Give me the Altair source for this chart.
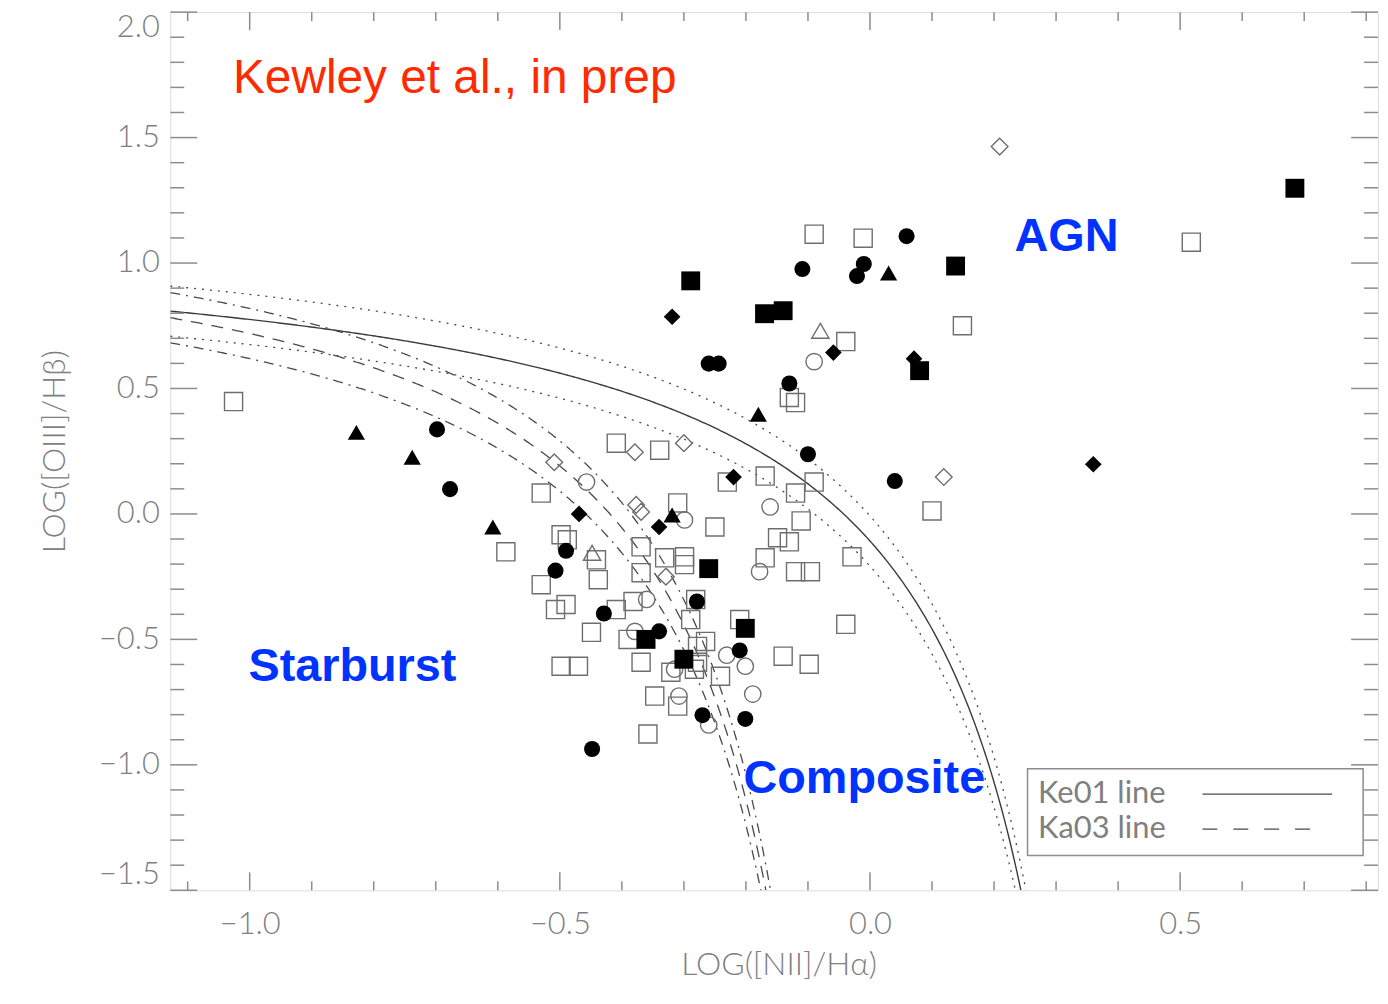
import altair as alt
import pandas as pd
import numpy as np

# ---------------- axis ranges / ticks ----------------
X_MIN, X_MAX = -1.128, 0.819
Y_MIN, Y_MAX = -1.5, 2.0
X_MAJOR = [-1.0, -0.5, 0.0, 0.5]
X_MINOR = [-1.1, -0.9, -0.8, -0.7, -0.6, -0.4, -0.3, -0.2, -0.1, 0.1, 0.2, 0.3, 0.4, 0.6, 0.7, 0.8]
Y_MAJOR = [-1.5, -1.0, -0.5, 0.0, 0.5, 1.0, 1.5, 2.0]
Y_MINOR = [-1.4, -1.3, -1.2, -1.1, -0.9, -0.8, -0.7, -0.6, -0.4, -0.3, -0.2, -0.1,
           0.1, 0.2, 0.3, 0.4, 0.6, 0.7, 0.8, 0.9, 1.1, 1.2, 1.3, 1.4, 1.6, 1.7, 1.8, 1.9]

# ---------------- demarcation lines (published coefficients) ----------------
KE01 = [0.61, 0.47, 1.19]   # log(OIII/Hb) = a/(log(NII/Ha) - x0) + b
KA03 = [0.61, 0.05, 1.30]
SHIFTS = [0.1, -0.1]

# ---------------- galaxies, by marker type ----------------
OPEN_SQ_X = [-1.026, -0.090, -0.011, 0.518, 0.149, -0.039, -0.130, -0.120, 0.100, -0.039,
             -0.098, -0.140, -0.409, -0.339, -0.530, -0.230, -0.169, -0.090, -0.120, -0.310,
             -0.250, -0.111, -0.149, -0.130, -0.169, -0.120, -0.096, -0.029, -0.587, -0.498,
             -0.488, -0.441, -0.438, -0.369, -0.369, -0.331, -0.299, -0.299, -0.530, -0.507,
             -0.490, -0.409, -0.382, -0.449, -0.390, -0.281, -0.289, -0.265, -0.210, -0.498,
             -0.470, -0.369, -0.321, -0.278, -0.278, -0.241, -0.347, -0.310, -0.358, -0.283]
OPEN_SQ_Y = [0.448, 1.115, 1.099, 1.083, 0.750, 0.687, 0.464, 0.444, 0.012, -0.440,
             -0.599, -0.567, 0.282, 0.254, 0.083, 0.127, 0.151, 0.127, 0.083, 0.044,
             -0.052, -0.028, -0.095, -0.111, -0.175, -0.230, -0.230, -0.171, -0.151, -0.083,
             -0.103, -0.183, -0.262, -0.131, -0.234, -0.175, -0.171, -0.202, -0.282, -0.381,
             -0.361, -0.381, -0.349, -0.472, -0.500, -0.341, -0.421, -0.508, -0.421, -0.607,
             -0.607, -0.591, -0.631, -0.528, -0.591, -0.647, -0.726, -0.766, -0.877, -0.619]

FILL_SQ_X = [0.685, -0.289, -0.170, -0.140, 0.138, 0.080, -0.260, -0.201, -0.300, -0.361]
FILL_SQ_Y = [1.298, 0.929, 0.798, 0.810, 0.988, 0.571, -0.218, -0.456, -0.579, -0.500]

FILL_CI_X = [0.059, -0.109, -0.010, -0.021, -0.260, -0.244, -0.130, -0.100, 0.040, -0.698,
             -0.677, -0.490, -0.507, -0.429, -0.340, -0.279, -0.210, -0.270, -0.201, -0.448]
FILL_CI_Y = [1.107, 0.976, 0.996, 0.948, 0.599, 0.599, 0.520, 0.238, 0.131, 0.337,
             0.099, -0.147, -0.226, -0.397, -0.468, -0.349, -0.544, -0.802, -0.817, -0.937]

OPEN_CI_X = [-0.090, -0.457, -0.299, -0.161, -0.178, -0.360, -0.379, -0.231, -0.201, -0.189,
             -0.260, -0.308, -0.315]
OPEN_CI_Y = [0.607, 0.127, -0.024, 0.028, -0.230, -0.341, -0.468, -0.563, -0.607, -0.718,
             -0.841, -0.726, -0.619]

FILL_TR_X = [0.030, -0.180, -0.828, -0.738, -0.608, -0.319]
FILL_TR_Y = [0.960, 0.397, 0.325, 0.226, -0.052, -0.004]

OPEN_TR_X = [-0.080, -0.448]
OPEN_TR_Y = [0.730, -0.155]

FILL_DI_X = [-0.319, -0.059, 0.071, 0.360, -0.220, -0.469, -0.340]
FILL_DI_Y = [0.786, 0.643, 0.619, 0.198, 0.147, 0.000, -0.052]

OPEN_DI_X = [0.209, 0.119, -0.509, -0.379, -0.300, -0.377, -0.369, -0.329]
OPEN_DI_Y = [1.464, 0.147, 0.206, 0.246, 0.282, 0.036, 0.008, -0.250]

# ---------------- layout / style ----------------
W, H = 1213, 882
AXC = "#8c8c8c"
LBL = "#808080"
FONT = "Lato"
XS = alt.Scale(domain=[X_MIN, X_MAX], nice=False, zero=False)
YS = alt.Scale(domain=[Y_MIN, Y_MAX], nice=False, zero=False)

AX_X = alt.Axis(values=X_MAJOR, format=".1f", title="LOG([NII]/Hα)", ticks=False, domain=False,
                grid=False, labelFont=FONT, labelFontSize=31, labelFontWeight=300, labelColor=LBL,
                labelPadding=19, titleFont=FONT, titleFontSize=32, titleFontWeight=300,
                titleColor=LBL, titleX=611, titleY=75, titleAlign="center", titleBaseline="middle")
AX_Y = alt.Axis(values=Y_MAJOR, format=".1f", title="LOG([OIII]/Hβ)", ticks=False, domain=False,
                grid=False, labelFont=FONT, labelFontSize=31, labelFontWeight=300, labelColor=LBL,
                labelPadding=11, labelFlush=True, titleFont=FONT, titleFontSize=32,
                titleFontWeight=300, titleColor=LBL, titleX=-116, titleY=441, titleAngle=270,
                titleAlign="center", titleBaseline="middle")


def X(f="x"):
    return alt.X(f + ":Q", scale=XS, axis=AX_X)


def Y(f="y"):
    return alt.Y(f + ":Q", scale=YS, axis=AX_Y)


def points(xs, ys, shape, filled, size):
    df = pd.DataFrame({"x": xs, "y": ys})
    if filled:
        m = alt.Chart(df).mark_point(shape=shape, filled=True, color="black", size=size,
                                     opacity=1, strokeWidth=0)
    else:
        m = alt.Chart(df).mark_point(shape=shape, filled=False, color="#6e6e6e", size=size,
                                     opacity=1, strokeWidth=1.4)
    return m.encode(x=X(), y=Y())


def curve_df(coef, shifts, name):
    a, x0, b = coef
    rows = []
    for s in shifts:
        x_end = x0 + a / (Y_MIN - b - s)
        xs = np.linspace(X_MIN, x_end, 400)
        for xv in xs:
            rows.append({"x": xv, "y": a / (xv - x0) + b + s, "name": f"{name}{s}"})
    return pd.DataFrame(rows)


def line(df, dash, width=1.3, color="#4a4a4a"):
    kw = dict(clip=True, color=color, strokeWidth=width)
    if dash:
        kw["strokeDash"] = dash
    return alt.Chart(df).mark_line(**kw).encode(x=X(), y=Y(), detail="name:N", order="x:Q")


layers = []
# demarcation curves
layers.append(line(curve_df(KE01, [0.0], "ke"), None, 1.4, "#3a3a3a"))
layers.append(line(curve_df(KE01, SHIFTS, "ke"), [2, 6]))
layers.append(line(curve_df(KA03, [0.0], "ka"), [12, 9]))
layers.append(line(curve_df(KA03, SHIFTS, "ka"), [10, 6, 2, 6]))

# tick marks (inward, all four sides)
def xticks(vals, ln):
    df = pd.DataFrame({"x": vals})
    b = alt.Chart(df).mark_rule(color=AXC, strokeWidth=1.5).encode(
        x=X(), y=alt.value(H), y2=alt.value(H - ln))
    t = alt.Chart(df).mark_rule(color=AXC, strokeWidth=1.5).encode(
        x=X(), y=alt.value(0), y2=alt.value(ln))
    return [b, t]


def yticks(vals, ln):
    df = pd.DataFrame({"y": vals})
    l = alt.Chart(df).mark_rule(color=AXC, strokeWidth=1.5).encode(
        y=Y(), x=alt.value(0), x2=alt.value(ln))
    r = alt.Chart(df).mark_rule(color=AXC, strokeWidth=1.5).encode(
        y=Y(), x=alt.value(W), x2=alt.value(W - ln))
    return [l, r]


layers += xticks(X_MAJOR, 18) + xticks(X_MINOR, 9) + yticks(Y_MAJOR, 27) + yticks(Y_MINOR, 14)

# points
layers.append(points(OPEN_SQ_X, OPEN_SQ_Y, "square", False, 330))
layers.append(points(OPEN_CI_X, OPEN_CI_Y, "circle", False, 270))
layers.append(points(OPEN_DI_X, OPEN_DI_Y, "diamond", False, 280))
layers.append(points(OPEN_TR_X, OPEN_TR_Y, "triangle-up", False, 300))
layers.append(points(FILL_SQ_X, FILL_SQ_Y, "square", True, 360))
layers.append(points(FILL_CI_X, FILL_CI_Y, "circle", True, 260))
layers.append(points(FILL_DI_X, FILL_DI_Y, "diamond", True, 280))
layers.append(points(FILL_TR_X, FILL_TR_Y, "triangle-up", True, 300))

# annotations
one = pd.DataFrame({"k": [0]})


def label(txt, x, y, size, color, bold, font="Liberation Sans"):
    return alt.Chart(one).mark_text(
        text=txt, align="left", baseline="middle", font=font, fontSize=size, color=color,
        fontWeight="bold" if bold else "normal").encode(
        x=alt.XDatum(x, scale=XS, axis=AX_X), y=alt.YDatum(y, scale=YS, axis=AX_Y))


layers.append(label("Kewley et al., in prep", -1.027, 1.734, 48, "#FF2A00", False))
layers.append(label("AGN", 0.233, 1.103, 47, "#0033FF", True))
layers.append(label("Starburst", -1.002, -0.611, 47, "#0033FF", True))
layers.append(label("Composite", -0.204, -1.056, 47, "#0033FF", True))

# legend box
layers.append(alt.Chart(one).mark_rect(fill="white", stroke=AXC, strokeWidth=1.5).encode(
    x=alt.XDatum(0.254, scale=XS, axis=AX_X), x2=alt.X2Datum(0.795),
    y=alt.YDatum(-1.016, scale=YS, axis=AX_Y), y2=alt.Y2Datum(-1.361)))
layers.append(label("Ke01 line", 0.271, -1.115, 31, LBL, False, FONT))
layers.append(label("Ka03 line", 0.271, -1.254, 31, LBL, False, FONT))
layers.append(alt.Chart(one).mark_rule(color="#4a4a4a", strokeWidth=1.3).encode(
    x=alt.XDatum(0.536, scale=XS, axis=AX_X), x2=alt.X2Datum(0.745),
    y=alt.YDatum(-1.117, scale=YS, axis=AX_Y)))
layers.append(alt.Chart(one).mark_rule(color="#4a4a4a", strokeWidth=1.3, strokeDash=[15, 16]).encode(
    x=alt.XDatum(0.536, scale=XS, axis=AX_X), x2=alt.X2Datum(0.725),
    y=alt.YDatum(-1.256, scale=YS, axis=AX_Y)))

chart = alt.layer(*layers).properties(
    width=W, height=H,
    padding={"left": 163, "top": 2, "right": 2, "bottom": 100},
    autosize=alt.AutoSizeParams(type="none"),
).configure_view(stroke=AXC, strokeWidth=1.5).configure(background="white")

chart.save("out.html", embed_options={"renderer": "svg", "actions": False})
